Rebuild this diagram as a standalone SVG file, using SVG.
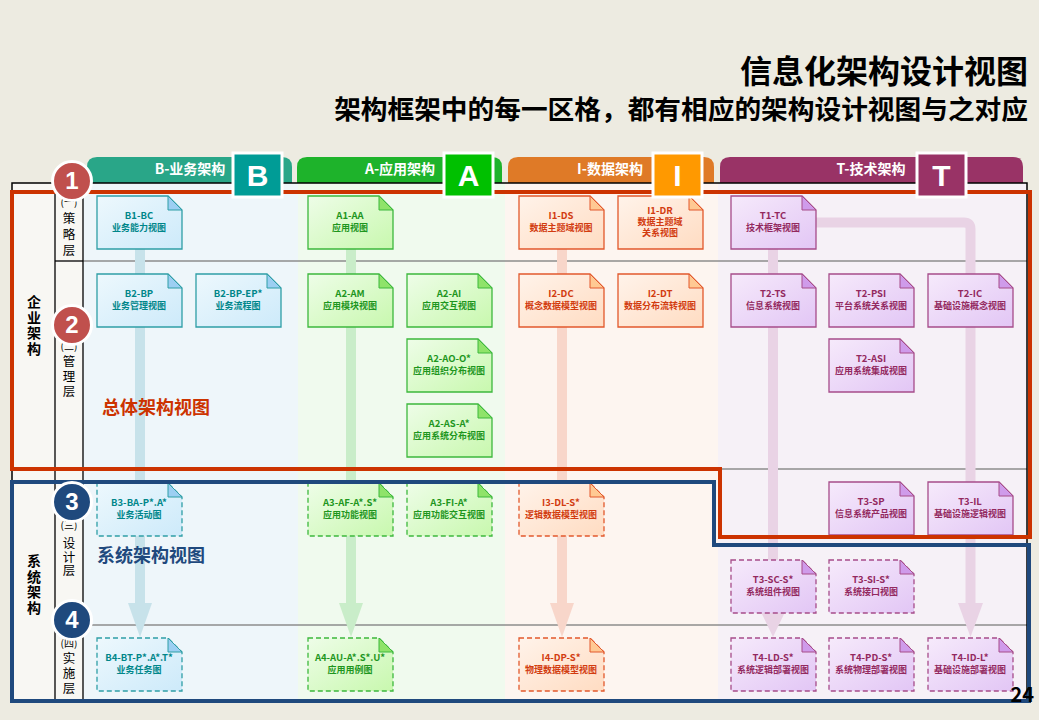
<svg xmlns="http://www.w3.org/2000/svg" xmlns:xlink="http://www.w3.org/1999/xlink" width="1039" height="720" viewBox="0 0 1039 720">
<style>
text{font-family:"Noto Sans CJK SC","Liberation Sans",sans-serif;}
.title{font-size:32px;font-weight:bold;fill:#000;text-anchor:end;}
.sub{font-size:26.7px;font-weight:bold;fill:#000;text-anchor:end;}
.tabt{font-size:14px;font-weight:bold;fill:#fff;text-anchor:middle;}
.badge{stroke:#fff;stroke-width:3;}
.badget{font-family:"Liberation Sans",sans-serif;font-size:30px;font-weight:bold;fill:#fff;text-anchor:middle;}
.par{font-size:10px;fill:#000;text-anchor:middle;}
.lay{font-size:12.5px;fill:#000;writing-mode:vertical-rl;}
.big{font-size:14px;font-weight:bold;fill:#000;writing-mode:vertical-rl;letter-spacing:1.5px;}
.node text{text-anchor:middle;font-weight:bold;}
.node .c{font-size:9.5px;}
.node .n{font-size:9px;}
.b .doc{fill:url(#gb);stroke:#2F9EA6;stroke-width:1.3;}
.b .fold{fill:#9CCFF2;stroke:#2F9EA6;stroke-width:1;}
.b text{fill:#00868A;}
.a .doc{fill:url(#ga);stroke:#3DB83D;stroke-width:1.3;}
.a .fold{fill:#8FE36A;stroke:#3DB83D;stroke-width:1;}
.a text{fill:#1E961E;}
.i .doc{fill:url(#gi);stroke:#E2582C;stroke-width:1.3;}
.i .fold{fill:#FFC993;stroke:#E2582C;stroke-width:1;}
.i text{fill:#D23C10;}
.t .doc{fill:url(#gt);stroke:#A64C8A;stroke-width:1.3;}
.t .fold{fill:#CF9BEA;stroke:#A64C8A;stroke-width:1;}
.t text{fill:#93295F;}
.dash .doc{stroke-dasharray:5 3;}
.grid{stroke:#8C8C8C;stroke-width:1.3;}
.blk{stroke:#000;stroke-width:1.3;}
.circ{stroke:#fff;stroke-width:3;}
.num{font-family:"Liberation Sans",sans-serif;font-size:24px;font-weight:bold;fill:#fff;text-anchor:middle;}
</style>
<defs>
<linearGradient id="gb" x1="0" y1="0" x2="1" y2="1"><stop offset="0" stop-color="#EDF8FD"/><stop offset="1" stop-color="#CDEAFA"/></linearGradient>
<linearGradient id="ga" x1="0" y1="0" x2="1" y2="1"><stop offset="0" stop-color="#EEFDE8"/><stop offset="1" stop-color="#C8F8AE"/></linearGradient>
<linearGradient id="gi" x1="0" y1="0" x2="1" y2="1"><stop offset="0" stop-color="#FFF3EA"/><stop offset="1" stop-color="#FFDCC2"/></linearGradient>
<linearGradient id="gt" x1="0" y1="0" x2="1" y2="1"><stop offset="0" stop-color="#F6EAFB"/><stop offset="1" stop-color="#E2C6F5"/></linearGradient>
<path id="doc" d="M0,0 H71 L85,14 V53 H0 Z"/>
<path id="fold" d="M71,0 L85,14 H71 Z"/>
</defs>

<rect x="0" y="0" width="1039" height="720" fill="#EDEBE1"/>

<g id="header">
<text class="title" x="1028" y="83">信息化架构设计视图</text>
<text class="sub" x="1028" y="119">架构框架中的每一区格，都有相应的架构设计视图与之对应</text>
</g>

<g id="tabs">
<path d="M87,183 V167 Q87,157 97,157 H282 Q292,157 292,167 V183 Z" fill="#29A688"/>
<text class="tabt" x="190" y="174">B-业务架构</text>
<path d="M297,183 V167 Q297,157 307,157 H492 Q502,157 502,167 V183 Z" fill="#1EB32B"/>
<text class="tabt" x="400" y="174">A-应用架构</text>
<path d="M508,183 V167 Q508,157 518,157 H704 Q714,157 714,167 V183 Z" fill="#DF7A27"/>
<text class="tabt" x="610" y="174">I-数据架构</text>
<path d="M720,183 V167 Q720,157 730,157 H1013 Q1023,157 1023,167 V183 Z" fill="#993366"/>
<text class="tabt" x="871" y="174">T-技术架构</text>
</g>

<g id="backgrounds">
<rect x="12" y="183" width="71" height="519" fill="#F8F7F3"/>
<rect x="83" y="183" width="215" height="519" fill="#EEF6FA"/>
<rect x="298" y="183" width="207" height="519" fill="#F0FAEE"/>
<rect x="505" y="183" width="213" height="519" fill="#FDF5F0"/>
<rect x="718" y="183" width="309" height="519" fill="#F6F1F7"/>
</g>

<g id="gridlines">
<line class="grid" x1="83" y1="261" x2="1027" y2="261"/>
<line class="grid" x1="83" y1="469" x2="1027" y2="469"/>
<line class="grid" x1="83" y1="625" x2="1027" y2="625"/>
<line class="blk" x1="55" y1="261" x2="83" y2="261"/>
<line class="blk" x1="55" y1="625" x2="83" y2="625"/>
<line class="blk" x1="55" y1="183" x2="55" y2="702"/>
<line class="blk" x1="83" y1="183" x2="83" y2="702"/>
<rect x="12" y="183" width="1015" height="519" fill="none" stroke="#000" stroke-width="1.5"/>
</g>

<g id="layer-labels">
<text class="par" x="69" y="206">(一)</text>
<text class="lay" x="69" y="212" style="letter-spacing:3.5px">策略层</text>
<text class="par" x="69" y="350">(二)</text>
<text class="lay" x="69" y="355" style="letter-spacing:2.5px">管理层</text>
<text class="par" x="69" y="529">(三)</text>
<text class="lay" x="69" y="537" style="letter-spacing:1px">设计层</text>
<text class="par" x="69" y="647">(四)</text>
<text class="lay" x="69" y="652" style="letter-spacing:2.5px">实施层</text>
<text class="big" x="34" y="295">企业架构</text>
<text class="big" x="34" y="554">系统架构</text>
</g>

<g id="connectors">
<line x1="140" y1="249" x2="140" y2="604" stroke="#C7E2EA" stroke-width="10"/>
<polygon points="128,603 152,603 140,637" fill="#C7E2EA"/>
<line x1="351" y1="249" x2="351" y2="604" stroke="#C9EDC9" stroke-width="10"/>
<polygon points="339,603 363,603 351,637" fill="#C9EDC9"/>
<line x1="562" y1="249" x2="562" y2="604" stroke="#F8D6CA" stroke-width="10"/>
<polygon points="550,603 574,603 562,637" fill="#F8D6CA"/>
<line x1="773" y1="249" x2="773" y2="613" stroke="#E9D3E5" stroke-width="10"/>
<polygon points="761,612 785,612 773,637" fill="#E9D3E5"/>
<path d="M815,222.5 H964 Q970.5,222.5 970.5,229 V604" fill="none" stroke="#E9D3E5" stroke-width="10"/>
<polygon points="958,603 983,603 970.5,637" fill="#E9D3E5"/>
</g>

<g id="B1-BC" class="node b" transform="translate(97,196)"><use href="#doc" class="doc"/><use href="#fold" class="fold"/><text class="c" x="42" y="23">B1-BC</text><text class="n" x="42" y="35">业务能力视图</text></g>
<g id="B2-BP" class="node b" transform="translate(97,274)"><use href="#doc" class="doc"/><use href="#fold" class="fold"/><text class="c" x="42" y="23">B2-BP</text><text class="n" x="42" y="35">业务管理视图</text></g>
<g id="B2-BP-EP" class="node b" transform="translate(196,274)"><use href="#doc" class="doc"/><use href="#fold" class="fold"/><text class="c" x="42" y="23">B2-BP-EP*</text><text class="n" x="42" y="35">业务流程图</text></g>
<g id="B3-BA" class="node b dash" transform="translate(97,483)"><use href="#doc" class="doc"/><use href="#fold" class="fold"/><text class="c" x="42" y="23">B3-BA-P*.A*</text><text class="n" x="42" y="35">业务活动图</text></g>
<g id="B4-BT" class="node b dash" transform="translate(97,638)"><use href="#doc" class="doc"/><use href="#fold" class="fold"/><text class="c" x="42" y="23">B4-BT-P*.A*.T*</text><text class="n" x="42" y="35">业务任务图</text></g>

<g id="A1-AA" class="node a" transform="translate(308,196)"><use href="#doc" class="doc"/><use href="#fold" class="fold"/><text class="c" x="42" y="23">A1-AA</text><text class="n" x="42" y="35">应用视图</text></g>
<g id="A2-AM" class="node a" transform="translate(308,274)"><use href="#doc" class="doc"/><use href="#fold" class="fold"/><text class="c" x="42" y="23">A2-AM</text><text class="n" x="42" y="35">应用模块视图</text></g>
<g id="A2-AI" class="node a" transform="translate(407,274)"><use href="#doc" class="doc"/><use href="#fold" class="fold"/><text class="c" x="42" y="23">A2-AI</text><text class="n" x="42" y="35">应用交互视图</text></g>
<g id="A2-AO" class="node a" transform="translate(407,339)"><use href="#doc" class="doc"/><use href="#fold" class="fold"/><text class="c" x="42" y="23">A2-AO-O*</text><text class="n" x="42" y="35">应用组织分布视图</text></g>
<g id="A2-AS" class="node a" transform="translate(407,404)"><use href="#doc" class="doc"/><use href="#fold" class="fold"/><text class="c" x="42" y="23">A2-AS-A*</text><text class="n" x="42" y="35">应用系统分布视图</text></g>
<g id="A3-AF" class="node a dash" transform="translate(308,483)"><use href="#doc" class="doc"/><use href="#fold" class="fold"/><text class="c" x="42" y="23">A3-AF-A*.S*</text><text class="n" x="42" y="35">应用功能视图</text></g>
<g id="A3-FI" class="node a dash" transform="translate(407,483)"><use href="#doc" class="doc"/><use href="#fold" class="fold"/><text class="c" x="42" y="23">A3-FI-A*</text><text class="n" x="42" y="35">应用功能交互视图</text></g>
<g id="A4-AU" class="node a dash" transform="translate(308,638)"><use href="#doc" class="doc"/><use href="#fold" class="fold"/><text class="c" x="42" y="23">A4-AU-A*.S*.U*</text><text class="n" x="42" y="35">应用用例图</text></g>

<g id="I1-DS" class="node i" transform="translate(519,196)"><use href="#doc" class="doc"/><use href="#fold" class="fold"/><text class="c" x="42" y="23">I1-DS</text><text class="n" x="42" y="35">数据主题域视图</text></g>
<g id="I1-DR" class="node i" transform="translate(618,196)"><use href="#doc" class="doc"/><use href="#fold" class="fold"/><text class="c" x="42" y="18">I1-DR</text><text class="n" x="42" y="29">数据主题域</text><text class="n" x="42" y="40">关系视图</text></g>
<g id="I2-DC" class="node i" transform="translate(519,274)"><use href="#doc" class="doc"/><use href="#fold" class="fold"/><text class="c" x="42" y="23">I2-DC</text><text class="n" x="42" y="35">概念数据模型视图</text></g>
<g id="I2-DT" class="node i" transform="translate(618,274)"><use href="#doc" class="doc"/><use href="#fold" class="fold"/><text class="c" x="42" y="23">I2-DT</text><text class="n" x="42" y="35">数据分布流转视图</text></g>
<g id="I3-DL" class="node i dash" transform="translate(519,483)"><use href="#doc" class="doc"/><use href="#fold" class="fold"/><text class="c" x="42" y="23">I3-DL-S*</text><text class="n" x="42" y="35">逻辑数据模型视图</text></g>
<g id="I4-DP" class="node i dash" transform="translate(519,638)"><use href="#doc" class="doc"/><use href="#fold" class="fold"/><text class="c" x="42" y="23">I4-DP-S*</text><text class="n" x="42" y="35">物理数据模型视图</text></g>

<g id="T1-TC" class="node t" transform="translate(731,196)"><use href="#doc" class="doc"/><use href="#fold" class="fold"/><text class="c" x="42" y="23">T1-TC</text><text class="n" x="42" y="35">技术框架视图</text></g>
<g id="T2-TS" class="node t" transform="translate(731,274)"><use href="#doc" class="doc"/><use href="#fold" class="fold"/><text class="c" x="42" y="23">T2-TS</text><text class="n" x="42" y="35">信息系统视图</text></g>
<g id="T2-PSI" class="node t" transform="translate(829,274)"><use href="#doc" class="doc"/><use href="#fold" class="fold"/><text class="c" x="42" y="23">T2-PSI</text><text class="n" x="42" y="35">平台系统关系视图</text></g>
<g id="T2-IC" class="node t" transform="translate(928,274)"><use href="#doc" class="doc"/><use href="#fold" class="fold"/><text class="c" x="42" y="23">T2-IC</text><text class="n" x="42" y="35">基础设施概念视图</text></g>
<g id="T2-ASI" class="node t" transform="translate(829,339)"><use href="#doc" class="doc"/><use href="#fold" class="fold"/><text class="c" x="42" y="23">T2-ASI</text><text class="n" x="42" y="35">应用系统集成视图</text></g>
<g id="T3-SP" class="node t" transform="translate(829,482)"><use href="#doc" class="doc"/><use href="#fold" class="fold"/><text class="c" x="42" y="23">T3-SP</text><text class="n" x="42" y="35">信息系统产品视图</text></g>
<g id="T3-IL" class="node t" transform="translate(928,482)"><use href="#doc" class="doc"/><use href="#fold" class="fold"/><text class="c" x="42" y="23">T3-IL</text><text class="n" x="42" y="35">基础设施逻辑视图</text></g>
<g id="T3-SC" class="node t dash" transform="translate(731,560)"><use href="#doc" class="doc"/><use href="#fold" class="fold"/><text class="c" x="42" y="23">T3-SC-S*</text><text class="n" x="42" y="35">系统组件视图</text></g>
<g id="T3-SI" class="node t dash" transform="translate(829,560)"><use href="#doc" class="doc"/><use href="#fold" class="fold"/><text class="c" x="42" y="23">T3-SI-S*</text><text class="n" x="42" y="35">系统接口视图</text></g>
<g id="T4-LD" class="node t dash" transform="translate(731,638)"><use href="#doc" class="doc"/><use href="#fold" class="fold"/><text class="c" x="42" y="23">T4-LD-S*</text><text class="n" x="42" y="35">系统逻辑部署视图</text></g>
<g id="T4-PD" class="node t dash" transform="translate(829,638)"><use href="#doc" class="doc"/><use href="#fold" class="fold"/><text class="c" x="42" y="23">T4-PD-S*</text><text class="n" x="42" y="35">系统物理部署视图</text></g>
<g id="T4-ID" class="node t dash" transform="translate(928,638)"><use href="#doc" class="doc"/><use href="#fold" class="fold"/><text class="c" x="42" y="23">T4-ID-L*</text><text class="n" x="42" y="35">基础设施部署视图</text></g>

<g id="frames">
<path d="M12,192 H1030 V537 H720 V469 H12 Z" fill="none" stroke="#CC3300" stroke-width="4"/>
<path d="M12,482 H714 V545 H1029 V701 H12 Z" fill="none" stroke="#1F497D" stroke-width="4"/>
<text x="102" y="414" font-size="18" font-weight="bold" fill="#CC3300">总体架构视图</text>
<text x="97" y="562" font-size="18" font-weight="bold" fill="#1F497D">系统架构视图</text>
</g>

<g id="badges">
<rect class="badge" x="233" y="153" width="49" height="44" fill="#009C96"/>
<text class="badget" x="257.5" y="186">B</text>
<rect class="badge" x="444" y="153" width="49" height="44" fill="#00C000"/>
<text class="badget" x="468.5" y="186">A</text>
<rect class="badge" x="653" y="153" width="49" height="44" fill="#FF9900"/>
<text class="badget" x="677.5" y="186">I</text>
<rect class="badge" x="917" y="153" width="49" height="44" fill="#993366"/>
<text class="badget" x="941.5" y="186">T</text>
</g>

<g id="markers">
<circle class="circ" cx="72" cy="181" r="19.5" fill="#C0504D"/>
<text class="num" x="72" y="189">1</text>
<circle class="circ" cx="72" cy="325" r="19.5" fill="#C0504D"/>
<text class="num" x="72" y="333">2</text>
<circle class="circ" cx="72" cy="502" r="19.5" fill="#1F497D"/>
<text class="num" x="72" y="510">3</text>
<circle class="circ" cx="72" cy="620" r="19.5" fill="#1F497D"/>
<text class="num" x="72" y="628">4</text>
</g>

<text x="1034" y="702" font-family="Liberation Sans,sans-serif" font-size="20" font-weight="bold" fill="#000" text-anchor="end">24</text>
</svg>
